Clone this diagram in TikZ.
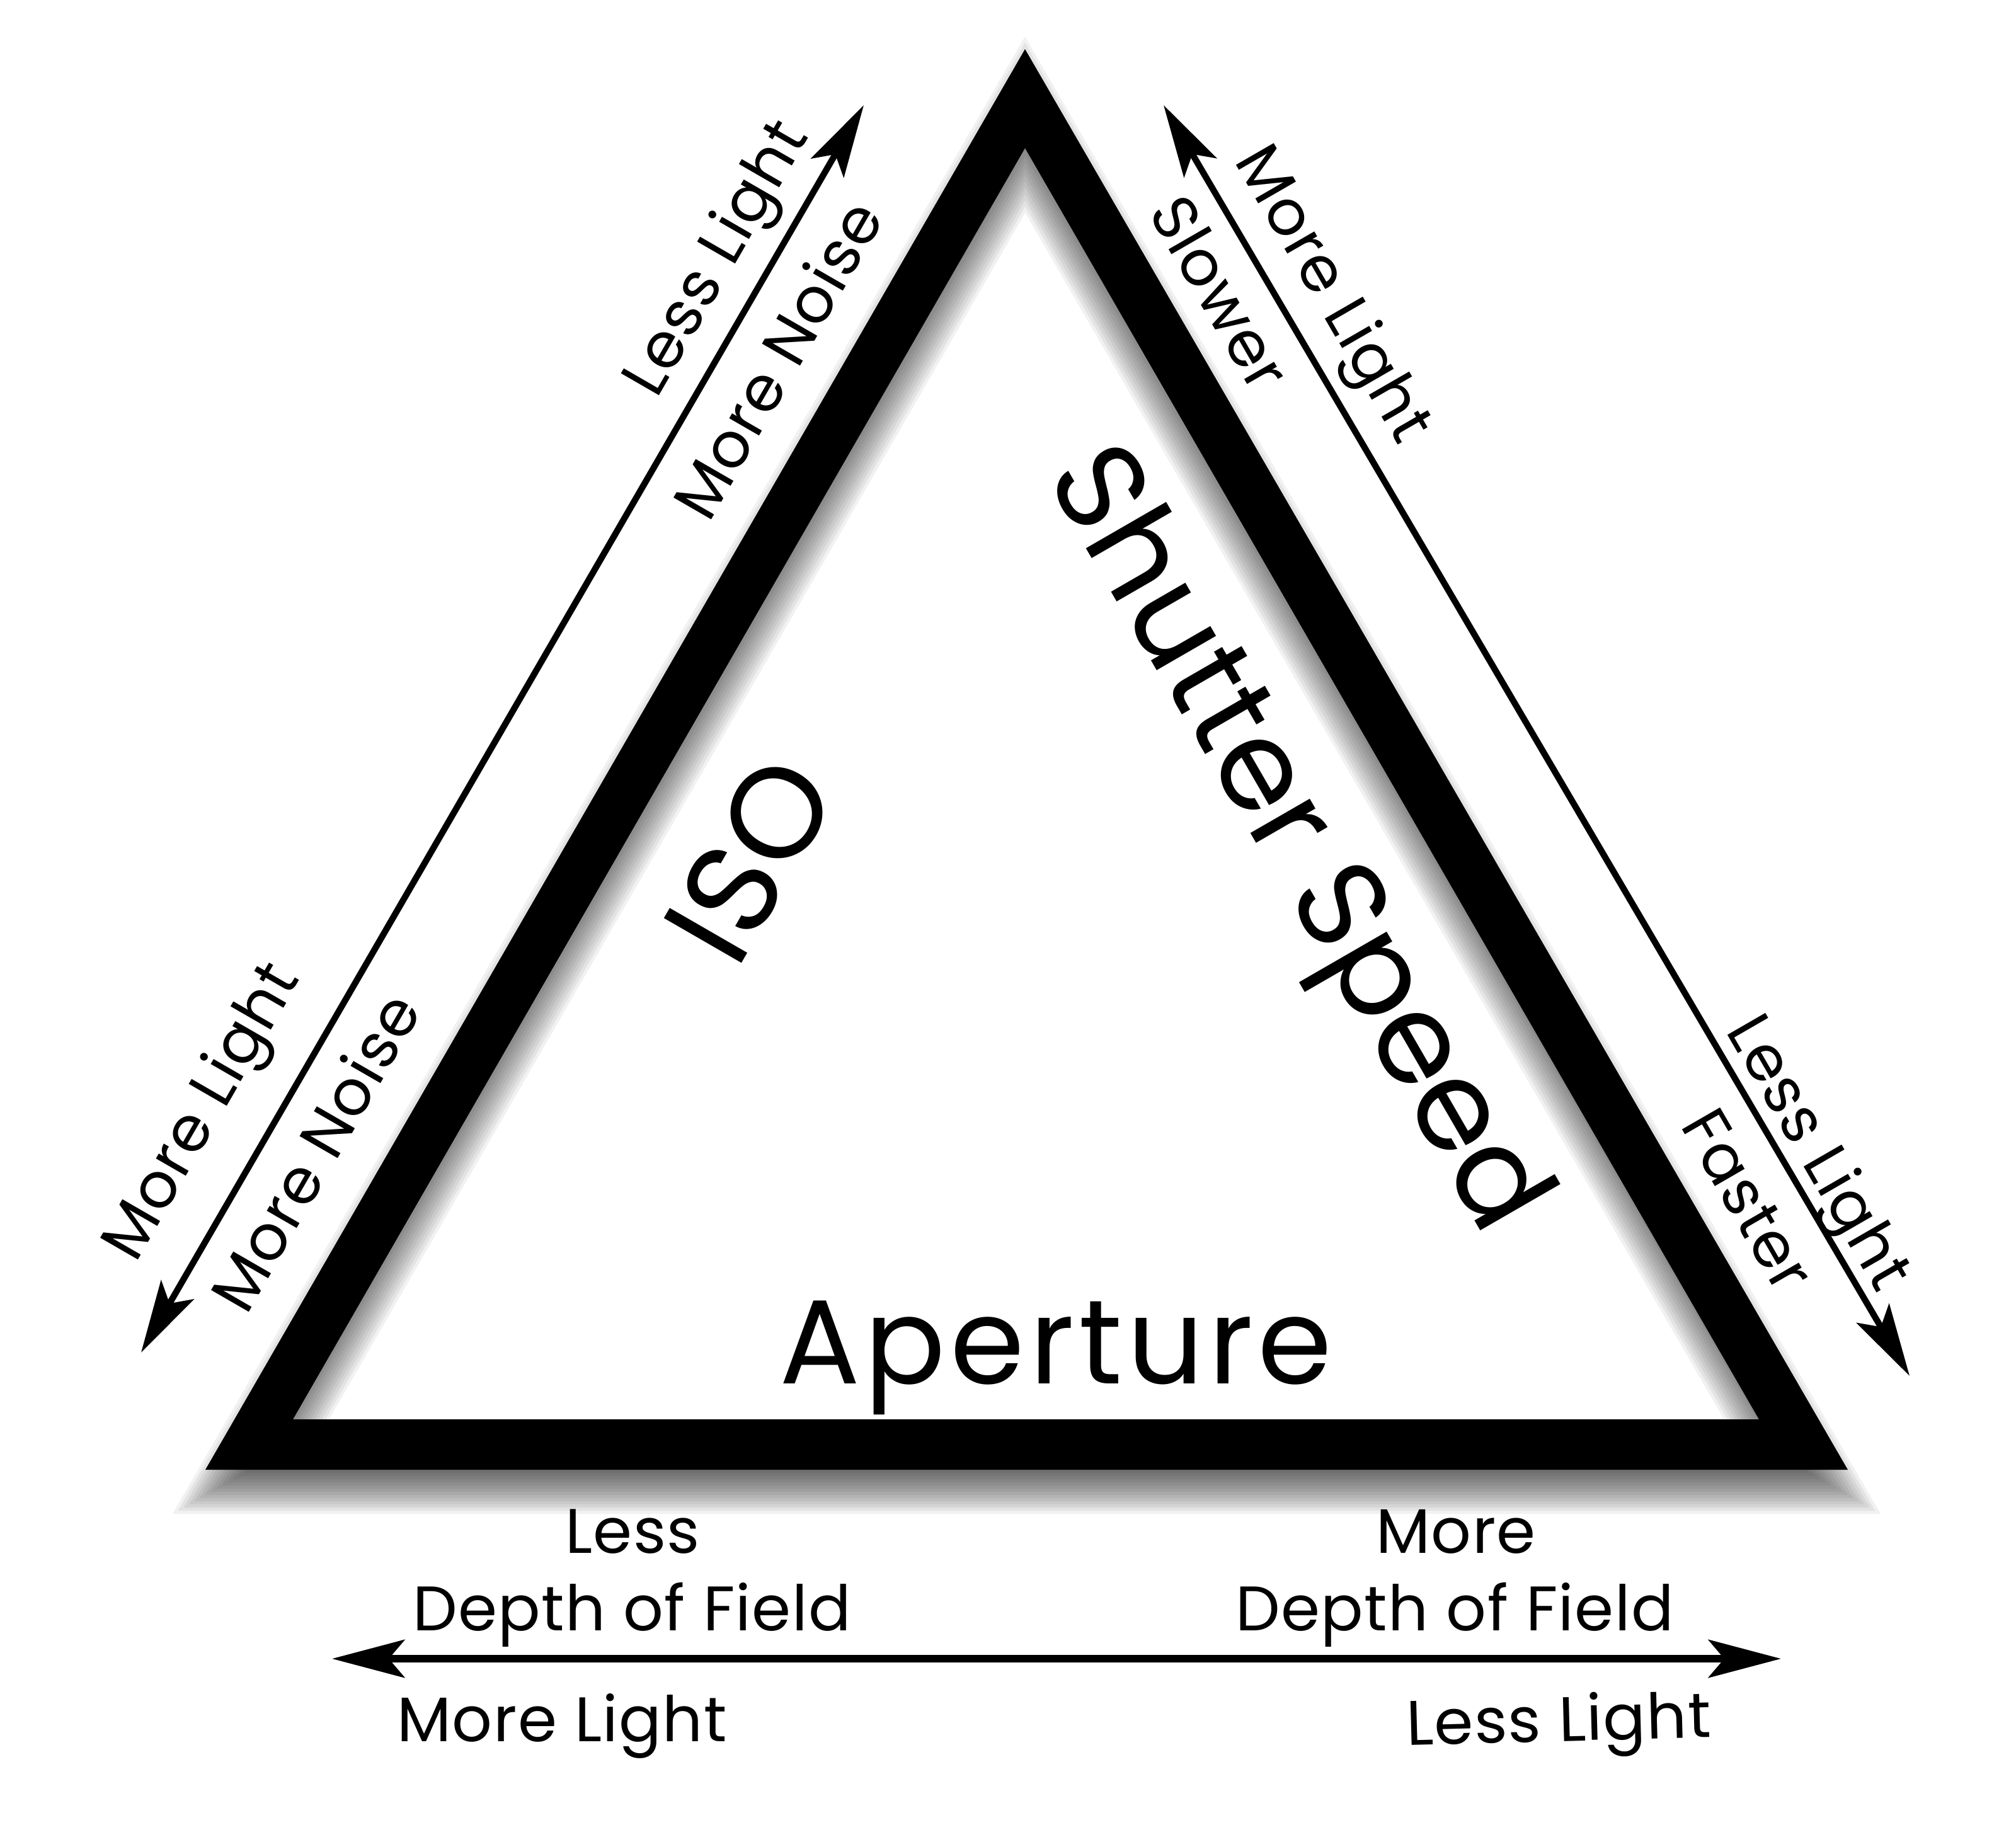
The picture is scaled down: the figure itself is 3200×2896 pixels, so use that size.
\documentclass[tikz,border=0pt]{standalone}
\usepackage{fontspec}
\setmainfont{Poppins}
\usetikzlibrary{arrows.meta,calc}
\newcommand\labfont{\fontsize{28.4pt}{33pt}\selectfont\addfontfeatures{LetterSpace=1.5}}
\newcommand\aperfont{\fontsize{54pt}{60pt}\selectfont\addfontfeatures{LetterSpace=4}}
\newcommand\titfont{\fontsize{58pt}{66pt}\selectfont}
\newcommand\ssfont{\fontsize{56.5pt}{64pt}\selectfont}
\tikzset{
  bandshape/.style={insert path={(1627,78) -- (2933,2333) -- (326,2333) -- cycle
                                 (1627,235) -- (2792,2253) -- (465,2253) -- cycle}},
  arr/.style={line width=1mm, {Stealth[length=1.15cm,width=0.6cm,inset=0.25cm]}-{Stealth[length=1.15cm,width=0.6cm,inset=0.25cm]}},
  arrb/.style={arr, line width=1.2mm},
  lab/.style={inner sep=0pt, text height=19.9pt, text depth=0pt, font=\labfont},
  big/.style={inner sep=0pt, text height=40.6pt, text depth=0pt, font=\titfont},
  ssbig/.style={inner sep=0pt, text height=39.5pt, text depth=0pt, font=\ssfont},
  aper/.style={inner sep=0pt, text height=37.8pt, text depth=0pt, font=\aperfont}
}
\begin{document}
\begin{tikzpicture}[x=0.01cm,y=-0.01cm]
\useasboundingbox[fill=white] (0,0) rectangle (3200,2896);
% soft drop shadow of the triangle band (band shifted down, blurred by stacked offsets)
\coordinate (C2) at (1629,1621);
\coordinate (T2) at (1627,118);
\coordinate (BR2) at (2933,2373);
\coordinate (BL2) at (326,2373);
\foreach \d in {-40,-35,...,30} {
  \pgfmathsetmacro\ofac{(752+\d)/752}
  \pgfmathsetmacro\nfac{(672-\d)/752}
  \fill[black, opacity=0.056, even odd rule]
    ($(C2)!\ofac!(T2)$) -- ($(C2)!\ofac!(BR2)$) -- ($(C2)!\ofac!(BL2)$) -- cycle
    ($(C2)!\nfac!(T2)$) -- ($(C2)!\nfac!(BR2)$) -- ($(C2)!\nfac!(BL2)$) -- cycle;
}
% the triangle band
\fill[black, even odd rule, bandshape];
% arrows
\coordinate (LA) at (224,2147);
\coordinate (LB) at (1371,167);
\coordinate (RA) at (1847,167);
\coordinate (RB) at (3031,2184);
\coordinate (BA) at (527,2633);
\coordinate (BB) at (2827,2633);
\draw[arr] (LA) -- (LB);
\draw[arr] (RA) -- (RB);
\draw[arrb] (BA) -- (BB);
% left side labels
\node[lab, rotate=60] (l1) at (1133,408) {Less Light};
\node[lab, rotate=60] (l2) at (1235,571) {More Noise};
\node[lab, rotate=60] (l3) at (316,1762) {More Light};
\node[lab, rotate=60] (l4) at (501,1829) {More Noise};
% right side labels
\node[lab, rotate=-60] (r1) at (2120,465) {More Light};
\node[lab, rotate=-60] (r2) at (1936,465) {Slower};
\node[lab, rotate=-60] (r3) at (2890,1828) {Less Light};
\node[lab, rotate=-60] (r4) at (2775,1905) {Faster};
% main titles
\node[big, rotate=60] (iso) at (1190,1364) {ISO};
\node[ssbig, rotate=-60] (ss) at (2068,1327) {Shutter Speed};
\node[aper] (ap) at (1676,2130) {Aperture};
% bottom labels
\node[lab] (b1) at (1004,2430) {Less};
\node[lab] (b2) at (1003,2553) {Depth of Field};
\node[lab] (b3) at (2311,2430) {More};
\node[lab] (b4) at (2309,2553) {Depth of Field};
\node[lab] (b5) at (892,2729) {More Light};
\node[lab, rotate=1.5] (b6) at (2474,2729) {Less Light};
\end{tikzpicture}
\end{document}
